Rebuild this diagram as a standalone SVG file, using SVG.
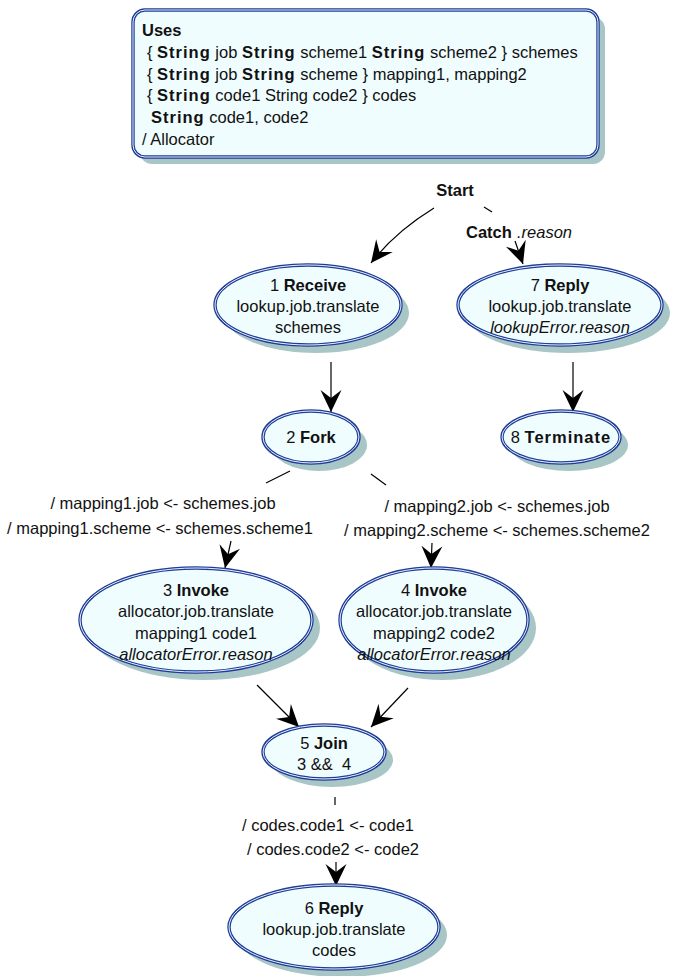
<svg xmlns="http://www.w3.org/2000/svg" width="674" height="976" viewBox="0 0 674 976">
<style>
text{font-family:"Liberation Sans",Arial,sans-serif;font-size:16.5px;fill:#111}
.b{font-weight:bold}
.bs{font-weight:bold;letter-spacing:1px}
.i{font-style:italic}
.c{text-anchor:middle}
.sh{fill:#a8c6c6}
.nb{fill:#f0fdff;stroke:#1f3d96;stroke-width:3.4}
.nl{fill:none;stroke:#e8f0ff;stroke-width:1}
.e{fill:none;stroke:#000;stroke-width:1.2}
</style>
<defs>
<marker id="ar" markerWidth="24" markerHeight="24" refX="22" refY="12" orient="auto" markerUnits="userSpaceOnUse">
<path d="M22,12 L0,1.5 L8,12 L0,22.5 Z" fill="#000"/>
</marker>
</defs>
<rect width="674" height="976" fill="#fff"/>
<g id="uses">
<rect class="sh" x="140" y="17" width="465" height="147" rx="12"/>
<rect class="nb" x="133" y="10" width="465" height="147" rx="12"/>
<rect class="nl" x="133" y="10" width="465" height="147" rx="12"/>
<text x="142" y="36" class="b">Uses</text>
<text x="147" y="58">{ <tspan class="bs">String</tspan> job <tspan class="bs">String</tspan> scheme1 <tspan class="bs">String</tspan> scheme2 } schemes</text>
<text x="147" y="80">{ <tspan class="bs">String</tspan> job <tspan class="bs">String</tspan> scheme } mapping1, mapping2</text>
<text x="147" y="101">{ <tspan class="bs">String</tspan> code1 String code2 } codes</text>
<text x="151" y="123"><tspan class="bs">String</tspan> code1, code2</text>
<text x="142" y="145">/ Allocator</text>
</g>
<g id="connectors">
<text x="455" y="196" class="b c">Start</text>
<path class="e" d="M434,208 Q395,232 371,263" marker-end="url(#ar)"/>
<line class="e" x1="484" y1="207" x2="492" y2="212"/>
<text x="466" y="238" class="b">Catch</text>
<text x="517" y="238" class="i">.reason</text>
<path class="e" d="M515,241 L523,264" marker-end="url(#ar)"/>
<line class="e" x1="331" y1="362" x2="331" y2="412" marker-end="url(#ar)"/>
<line class="e" x1="573" y1="362" x2="573" y2="412" marker-end="url(#ar)"/>
<line class="e" x1="290" y1="471" x2="266" y2="483"/>
<text x="163" y="509" class="c">/ mapping1.job &lt;- schemes.job</text>
<text x="160" y="534" class="c">/ mapping1.scheme &lt;- schemes.scheme1</text>
<path class="e" d="M231,541 L225,568" marker-end="url(#ar)"/>
<line class="e" x1="371" y1="474" x2="386" y2="485"/>
<text x="497" y="512" class="c">/ mapping2.job &lt;- schemes.job</text>
<text x="497" y="536" class="c">/ mapping2.scheme &lt;- schemes.scheme2</text>
<path class="e" d="M432,543 L431,568" marker-end="url(#ar)"/>
<line class="e" x1="257" y1="685" x2="299" y2="727" marker-end="url(#ar)"/>
<line class="e" x1="408" y1="688" x2="371" y2="727" marker-end="url(#ar)"/>
<line class="e" x1="335" y1="797" x2="335" y2="805"/>
<text x="328" y="831" class="c">/ codes.code1 &lt;- code1</text>
<text x="333" y="855" class="c">/ codes.code2 &lt;- code2</text>
<line class="e" x1="336" y1="862" x2="336" y2="886" marker-end="url(#ar)"/>
</g>
<g id="n1">
<ellipse class="sh" cx="316" cy="313" rx="93" ry="40"/>
<ellipse class="nb" cx="308" cy="305" rx="93" ry="40"/>
<ellipse class="nl" cx="308" cy="305" rx="93" ry="40"/>
<text x="308" y="291" class="c">1 <tspan class="b">Receive</tspan></text>
<text x="308" y="312" class="c">lookup.job.translate</text>
<text x="308" y="333" class="c">schemes</text>
</g>
<g id="n7">
<ellipse class="sh" cx="568" cy="313" rx="102" ry="40"/>
<ellipse class="nb" cx="560" cy="305" rx="102" ry="40"/>
<ellipse class="nl" cx="560" cy="305" rx="102" ry="40"/>
<text x="560" y="291" class="c">7 <tspan class="b">Reply</tspan></text>
<text x="560" y="312" class="c">lookup.job.translate</text>
<text x="560" y="333" class="c i">lookupError.reason</text>
</g>
<g id="n2">
<ellipse class="sh" cx="319" cy="445" rx="48" ry="26"/>
<ellipse class="nb" cx="311" cy="437" rx="48" ry="26"/>
<ellipse class="nl" cx="311" cy="437" rx="48" ry="26"/>
<text x="311" y="443" class="c">2 <tspan class="b">Fork</tspan></text>
</g>
<g id="n8">
<ellipse class="sh" cx="569" cy="445" rx="59" ry="26"/>
<ellipse class="nb" cx="561" cy="437" rx="59" ry="26"/>
<ellipse class="nl" cx="561" cy="437" rx="59" ry="26"/>
<text x="561" y="443" class="c">8 <tspan class="bs">Terminate</tspan></text>
</g>
<g id="n3">
<ellipse class="sh" cx="204" cy="628" rx="116" ry="52"/>
<ellipse class="nb" cx="196" cy="620" rx="116" ry="52"/>
<ellipse class="nl" cx="196" cy="620" rx="116" ry="52"/>
<text x="196" y="596" class="c">3 <tspan class="b">Invoke</tspan></text>
<text x="196" y="617" class="c">allocator.job.translate</text>
<text x="196" y="639" class="c">mapping1 code1</text>
<text x="196" y="660" class="c i">allocatorError.reason</text>
</g>
<g id="n4">
<ellipse class="sh" cx="442" cy="628" rx="94" ry="52"/>
<ellipse class="nb" cx="434" cy="620" rx="94" ry="52"/>
<ellipse class="nl" cx="434" cy="620" rx="94" ry="52"/>
<text x="434" y="596" class="c">4 <tspan class="b">Invoke</tspan></text>
<text x="434" y="617" class="c">allocator.job.translate</text>
<text x="434" y="639" class="c">mapping2 code2</text>
<text x="434" y="660" class="c i">allocatorError.reason</text>
</g>
<g id="n5">
<ellipse class="sh" cx="332" cy="760" rx="61" ry="27"/>
<ellipse class="nb" cx="324" cy="752" rx="61" ry="27"/>
<ellipse class="nl" cx="324" cy="752" rx="61" ry="27"/>
<text x="324" y="749" class="c">5 <tspan class="b">Join</tspan></text>
<text x="324" y="770" class="c" xml:space="preserve">3 &amp;&amp;  4</text>
</g>
<g id="n6">
<ellipse class="sh" cx="342" cy="935" rx="105" ry="42"/>
<ellipse class="nb" cx="334" cy="927" rx="105" ry="42"/>
<ellipse class="nl" cx="334" cy="927" rx="105" ry="42"/>
<text x="334" y="914" class="c">6 <tspan class="b">Reply</tspan></text>
<text x="334" y="935" class="c">lookup.job.translate</text>
<text x="334" y="956" class="c">codes</text>
</g>
</svg>
